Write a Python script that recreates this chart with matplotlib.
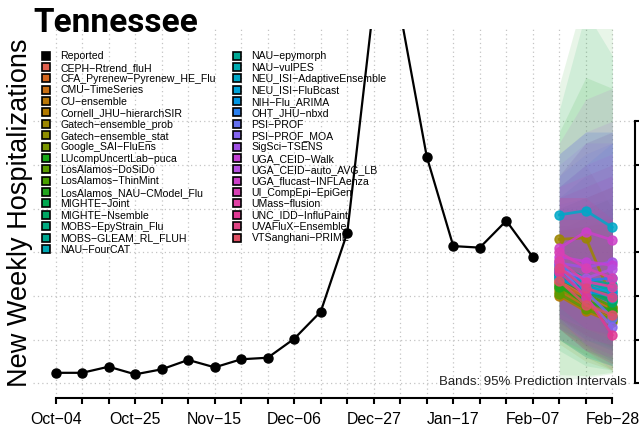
import matplotlib
matplotlib.use('Agg')
import matplotlib.pyplot as plt
import matplotlib.dates as mdates
from matplotlib.lines import Line2D
import pandas as pd

plt.rcParams['font.family'] = ['Liberation Sans', 'DejaVu Sans']

# weekly dates (Saturdays) for the season
weeks = pd.date_range('2025-10-04', '2026-02-28', freq='7D')
fc_weeks = weeks[-3:]

# reported hospitalizations up to Feb-07
reported = [48, 48, 76, 41, 64, 107, 73, 110, 117, 204, 328, 689,
            1742, 1697, 1037, 628, 621, 744, 578]

models = ['CEPH-Rtrend_fluH', 'CFA_Pyrenew-Pyrenew_HE_Flu', 'CMU-TimeSeries',
          'CU-ensemble', 'Cornell_JHU-hierarchSIR', 'Gatech-ensemble_prob',
          'Gatech-ensemble_stat', 'Google_SAI-FluEns', 'LUcompUncertLab-puca',
          'LosAlamos-DoSiDo', 'LosAlamos-ThinMint', 'LosAlamos_NAU-CModel_Flu',
          'MIGHTE-Joint', 'MIGHTE-Nsemble', 'MOBS-EpyStrain_Flu',
          'MOBS-GLEAM_RL_FLUH', 'NAU-FourCAT', 'NAU-epymorph', 'NAU-vulPES',
          'NEU_ISI-AdaptiveEnsemble', 'NEU_ISI-FluBcast', 'NIH-Flu_ARIMA',
          'OHT_JHU-nbxd', 'PSI-PROF', 'PSI-PROF_MOA', 'SigSci-TSENS',
          'UGA_CEID-Walk', 'UGA_CEID-auto_AVG_LB', 'UGA_flucast-INFLAenza',
          'UI_CompEpi-EpiGen', 'UMass-flusion', 'UNC_IDD-InfluPaint',
          'UVAFluX-Ensemble', 'VTSanghani-PRIME']

colors = ['#E0604E', '#D4661E', '#C96F12', '#BA7808', '#B27A00', '#9C8600',
          '#8F8E00', '#7A9600', '#18A818', '#5A9C00', '#48A000', '#22A41E',
          '#00A850', '#00A864', '#00AA80', '#00A890', '#00A8B4', '#00A894',
          '#00AAB0', '#00A8C8', '#00A2D8', '#0096E4', '#2A80F0', '#6470F0',
          '#8464F0', '#A050E4', '#C440D4', '#B450E0', '#CC40C8', '#D840B4',
          '#E040A4', '#E03894', '#E04484', '#E05064']

# median and 95% interval per model, horizons Feb-14 / Feb-21 / Feb-28
med = [[470, 400, 350], [440, 360, 300], [460, 390, 340], [420, 350, 300],
       [400, 330, 280], [659, 666, 381], [500, 440, 400], [430, 370, 330],
       [450, 360, 310], [410, 340, 290], [480, 410, 350], [440, 380, 330],
       [500, 430, 380], [490, 420, 370], [520, 450, 400], [530, 470, 420],
       [510, 440, 390], [540, 480, 450], [520, 460, 430], [771, 790, 714],
       [500, 440, 420], [480, 420, 400], [510, 470, 482], [560, 420, 300],
       [540, 390, 259], [550, 530, 557], [580, 557, 540], [520, 480, 523],
       [618, 694, 656], [600, 528, 482], [560, 465, 442], [510, 400, 221],
       [530, 436, 396], [470, 358, 313]]

lo = [[250, 150, 90], [260, 170, 110], [300, 220, 160], [250, 160, 100],
      [180, 100, 60], [450, 380, 150], [300, 200, 150], [200, 120, 60],
      [40, 35, 50], [200, 130, 80], [300, 220, 160], [15, 25, 45],
      [150, 80, 60], [200, 120, 80], [250, 150, 100], [300, 220, 170],
      [280, 200, 150], [320, 250, 200], [280, 200, 160], [500, 450, 350],
      [250, 180, 130], [200, 120, 80], [300, 250, 230], [300, 180, 100],
      [300, 170, 80], [300, 250, 220], [200, 150, 120], [250, 200, 180],
      [400, 400, 350], [350, 250, 200], [300, 220, 170], [250, 150, 60],
      [280, 180, 130], [250, 150, 90]]

hi = [[700, 720, 780], [700, 700, 720], [640, 620, 640], [650, 640, 660],
      [700, 760, 800], [900, 1000, 800], [720, 720, 740], [800, 850, 900],
      [1150, 1400, 1350], [750, 800, 850], [700, 700, 720], [1365, 1800, 1900],
      [1250, 1700, 1500], [950, 1100, 1150], [850, 950, 1000], [800, 850, 900],
      [780, 780, 800], [800, 820, 850], [820, 850, 900], [1050, 1150, 1150],
      [850, 900, 950], [900, 1000, 1100], [950, 1050, 1100], [1050, 1150, 1150],
      [1000, 1100, 1100], [1050, 1150, 1200], [1100, 1300, 1350], [900, 1000, 1050],
      [950, 1100, 1150], [900, 950, 1000], [850, 900, 950], [850, 850, 750],
      [850, 850, 900], [750, 750, 750]]

y_ticks = [0, 200, 400, 600, 800, 1000, 1200]


def dash(s):
    return s.replace('-', '\u2212')


fig = plt.figure(figsize=(6.39, 4.34), dpi=100)
W, H = 639, 434
ax = fig.add_axes([33.4 / W, 1 - 398 / H, (634.6 - 33.4) / W, (398 - 29) / H])

# prediction bands
for i in range(len(models)):
    ax.fill_between(fc_weeks, lo[i], hi[i], color=colors[i], alpha=0.1,
                    linewidth=0, zorder=2)

# median forecasts
for i in range(len(models)):
    ax.plot(fc_weeks, med[i], color=colors[i], lw=2, marker='o', ms=6.5,
            alpha=0.85, zorder=3)

ax.plot(weeks[:len(reported)], reported, color='black', lw=1.6, marker='o',
        ms=6.5, zorder=4)

# axes
pad = pd.Timedelta(days=21 * 7 * 0.04)
ax.set_xlim(weeks[0] - pad, weeks[-1] + pad)
ax.set_ylim(-67.3, 1621.7)
ax.set_xticks(weeks)
ax.set_xticklabels([dash(d.strftime('%b-%d')) if k % 3 == 0 else ''
                    for k, d in enumerate(weeks)], fontsize=11.4)
ax.set_yticks(y_ticks)
ax.yaxis.tick_right()
ax.tick_params(axis='y', direction='out', length=3, width=1.5, labelright=False)
ax.tick_params(axis='x', direction='out', length=4.3, width=1.5, pad=6)

for s in ['top', 'left']:
    ax.spines[s].set_visible(False)
ax.spines['bottom'].set_bounds(mdates.date2num(weeks[0]), mdates.date2num(weeks[-1]))
ax.spines['right'].set_bounds(y_ticks[0], y_ticks[-1])
ax.spines['bottom'].set_linewidth(1.5)
ax.spines['right'].set_linewidth(1.5)

ax.grid(True, color='#C4C4C4', linestyle=(0, (1, 2.5)), linewidth=0.9, zorder=0)
ax.set_axisbelow(True)

ax.text(0.9874, 0.0442, 'Bands: 95% Prediction Intervals', transform=ax.transAxes,
        ha='right', va='center', fontsize=9.5, color='#222222', zorder=5)

# legend
handles = [Line2D([], [], marker='s', ms=5.4, mfc='black', mec='black',
                  mew=1.2, ls='none')]
handles += [Line2D([], [], marker='s', ms=5.4, mfc=c, mec='black', mew=1.2,
                   ls='none') for c in colors]
labels = ['Reported'] + [dash(m) for m in models]
ax.legend(handles, labels, ncol=2, loc='upper left',
          bbox_to_anchor=(42.5 / W, 1 - 51.3 / H), bbox_transform=fig.transFigure,
          frameon=False, fontsize=7.6, handlelength=0.7, handletextpad=1.0,
          labelspacing=0.13, columnspacing=1.68, borderpad=0, borderaxespad=0)

fig.text(33.4 / W, 1 - 31.7 / H, 'Tennessee', fontsize=24, fontweight='bold',
         family=['Roboto', 'DejaVu Sans'], ha='left', va='baseline')
fig.text(20 / W, 1 - 212.5 / H, 'New Weekly Hospitalizations', fontsize=19.5,
         rotation=90, ha='center', va='center')

fig.savefig('out.png', dpi=100)
